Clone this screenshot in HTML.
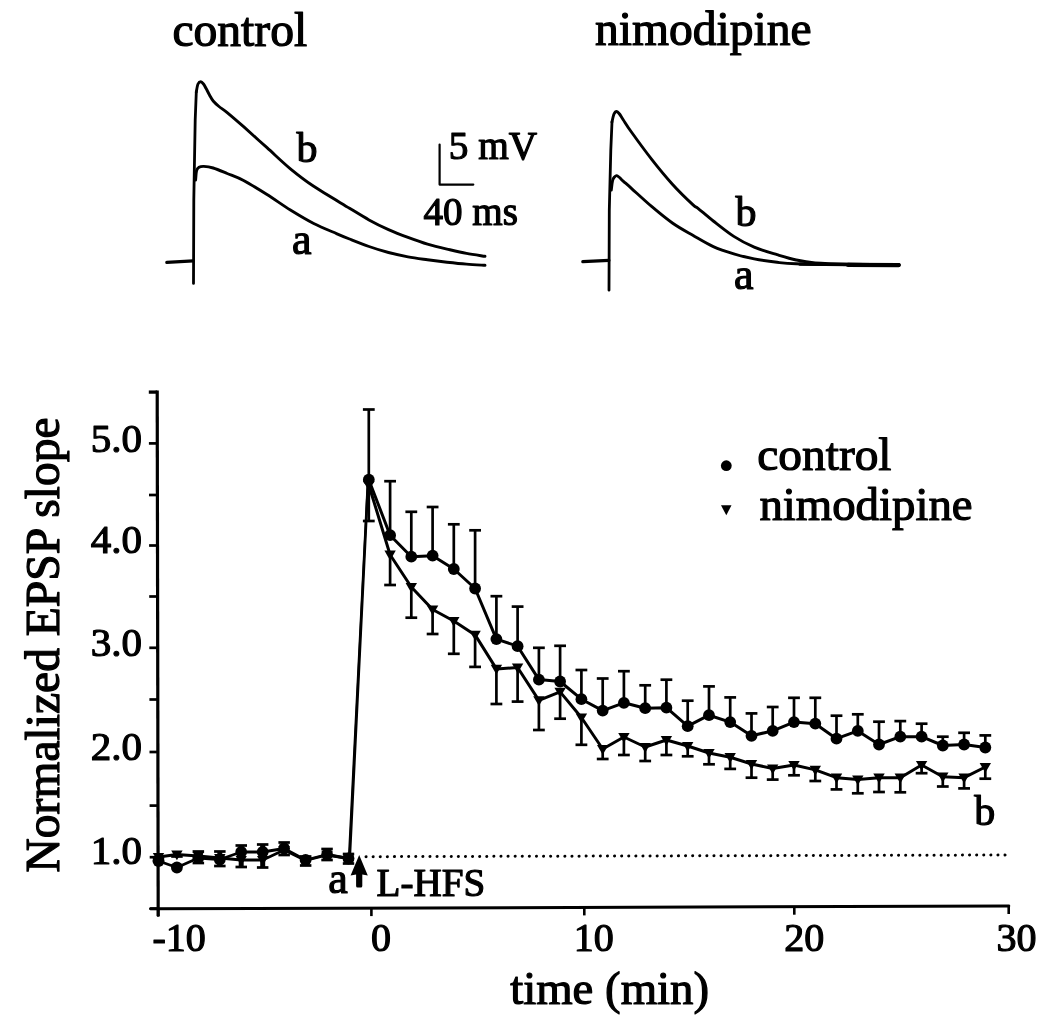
<!DOCTYPE html>
<html><head><meta charset="utf-8"><title>figure</title>
<style>html,body{margin:0;padding:0;background:#fff}body{width:1050px;height:1026px;overflow:hidden}svg{display:block;will-change:transform}text{font-family:"Liberation Serif",serif;fill:#000;stroke:#000;stroke-width:1.2px;stroke-linejoin:round}</style>
</head><body>
<svg width="1050" height="1026" viewBox="0 0 1050 1026">
<rect width="1050" height="1026" fill="#fff"/>
<text x="172.4" y="46.1" font-size="47.6">control</text>
<text x="594.9" y="44.8" font-size="47.6">nimodipine</text>
<path d="M166.8 262.4 L193.3 260.9" fill="none" stroke="#000" stroke-width="3.2" stroke-linejoin="round" stroke-linecap="round"/>
<path d="M193.5 283.4 L193.8 200 L195.2 120 L196.3 92" fill="none" stroke="#000" stroke-width="2.8" stroke-linejoin="round" stroke-linecap="round"/>
<path d="M196.3 92 C196.6 90.7 197.2 85.7 198 84 C198.8 82.3 199.9 81.8 200.8 81.8 C201.7 81.8 202.6 82.9 203.5 84 C204.4 85.1 205.1 86.7 206.1 88.5 C207.1 90.3 208.3 92.9 209.5 95 C210.7 97.1 211.6 99.1 213.2 101 C214.8 102.9 216.7 104.6 219 106.5 C221.3 108.4 223.1 109.2 227.2 112.6 C231.3 116 237 120.9 243.6 126.7 C250.2 132.6 259.2 140.7 267 147.7 C274.8 154.7 282.6 162.4 290.4 168.8 C298.2 175.2 303.8 179.7 313.7 186.3 C323.6 192.9 340.3 202.6 349.5 208.2 C358.7 213.8 362.5 216.3 369 219.9 C375.5 223.5 382 226.7 388.5 229.6 C395 232.5 401.5 235 408 237.4 C414.5 239.8 421 242.2 427.5 244.2 C434 246.1 440.5 247.6 447 249.1 C453.5 250.6 460.2 252.2 466.5 253.4 C472.8 254.6 481.9 255.8 485 256.3" fill="none" stroke="#000" stroke-width="2.9" stroke-linejoin="round" stroke-linecap="round"/>
<path d="M195.6 180 C195.8 178.4 196 172.6 196.6 170.5 C197.2 168.4 197.8 168 199 167.3 C200.2 166.6 201.4 166.3 203.8 166.4 C206.2 166.5 209.3 166.8 213.2 168 C217.1 169.2 222.1 171.4 227.2 173.5 C232.3 175.6 237 177 243.6 180.5 C250.2 184 259.2 189.6 267 194.5 C274.8 199.4 282.6 205.2 290.4 210 C298.2 214.8 305.9 219.5 313.7 223.5 C321.5 227.5 331 231.2 337 233.8 C343 236.4 344.2 236.9 349.5 239 C354.8 241.1 362.5 244.2 369 246.5 C375.5 248.8 382 250.8 388.5 252.5 C395 254.2 401.5 255.7 408 256.9 C414.5 258.1 421 258.9 427.5 259.8 C434 260.7 440.5 261.5 447 262.2 C453.5 262.9 460.2 263.6 466.5 264.1 C472.8 264.6 481.9 265.1 485 265.3" fill="none" stroke="#000" stroke-width="2.9" stroke-linejoin="round" stroke-linecap="round"/>
<text x="296.6" y="162.1" font-size="42">b</text>
<text x="291.9" y="254.4" font-size="44">a</text>
<path d="M439.6 144.5 L439.6 184.6 L473.3 184.6" fill="none" stroke="#000" stroke-width="2.2" stroke-linejoin="round" stroke-linecap="round"/>
<text x="448.7" y="159.4" font-size="39.3">5 mV</text>
<text x="423.5" y="224.7" font-size="39.1">40 ms</text>
<path d="M582.8 261.7 L608.9 260.4" fill="none" stroke="#000" stroke-width="3.2" stroke-linejoin="round" stroke-linecap="round"/>
<path d="M609 290.2 L609.3 210 L610.8 150 L612 122" fill="none" stroke="#000" stroke-width="2.8" stroke-linejoin="round" stroke-linecap="round"/>
<path d="M612 122 C612.3 120.7 613.2 115.8 614 114 C614.8 112.2 615.8 111.5 616.7 111.5 C617.6 111.5 618.4 112.6 619.5 114 C620.6 115.4 621.2 116.7 623.2 119.7 C625.2 122.7 626.6 125.3 631.4 132 C636.2 138.7 645.1 150.9 651.9 159.6 C658.7 168.3 665.6 176.7 672.4 184.2 C679.2 191.7 688.5 200.6 692.8 204.6 C697.1 208.6 694.6 205.6 698 208.3 C701.4 211 707.3 216.3 713.3 221 C719.3 225.7 727 232 733.8 236.4 C740.6 240.8 747 244.1 754.2 247.2 C761.4 250.2 770.1 252.6 777.1 254.7 C784.1 256.8 789.9 258.6 796.2 260 C802.6 261.4 806.2 262.2 815.2 262.9 C824.2 263.6 836 263.9 850 264.2 C864 264.5 890.8 264.7 899 264.8" fill="none" stroke="#000" stroke-width="2.9" stroke-linejoin="round" stroke-linecap="round"/>
<path d="M611.3 190 C611.5 188.4 612.1 182.7 612.6 180.5 C613.1 178.3 613.8 177.8 614.5 177 C615.2 176.2 615.9 175.5 616.7 175.6 C617.5 175.7 618.4 176.6 619.5 177.5 C620.6 178.4 621.2 179.3 623.2 181.1 C625.2 182.9 626.6 184 631.4 188.3 C636.2 192.6 645.1 200.9 651.9 206.7 C658.7 212.5 665.6 218.2 672.4 223 C679.2 227.8 686 231.4 692.8 235.3 C699.6 239.2 706.5 243.5 713.3 246.6 C720.1 249.7 727 251.8 733.8 253.8 C740.6 255.9 747 257.5 754.2 258.9 C761.4 260.3 770.1 261.5 777.1 262.3 C784.1 263.1 785.7 263.4 796.2 263.8 C806.7 264.2 822.9 264.4 840 264.6 C857.1 264.8 889.2 265 899 265.1" fill="none" stroke="#000" stroke-width="2.9" stroke-linejoin="round" stroke-linecap="round"/>
<path d="M800 264.2 L899 265" fill="none" stroke="#000" stroke-width="3.3" stroke-linejoin="round" stroke-linecap="round"/>
<path d="M848 264.9 L898.6 265.2" fill="none" stroke="#000" stroke-width="4.2" stroke-linejoin="round" stroke-linecap="round"/>
<text x="735.6" y="226.2" font-size="42">b</text>
<text x="734.1" y="289.1" font-size="44">a</text>
<path d="M157.2 390.5 L158.2 916" fill="none" stroke="#000" stroke-width="3.2" stroke-linejoin="round" stroke-linecap="butt"/>
<path d="M150.5 908.8 L1008.8 906" fill="none" stroke="#000" stroke-width="3" stroke-linejoin="round" stroke-linecap="round"/>
<path d="M148.8 392.1 L157.2 392.1" fill="none" stroke="#000" stroke-width="3.3" stroke-linejoin="round" stroke-linecap="butt"/>
<path d="M148.9 443.4 L157.3 443.4" fill="none" stroke="#000" stroke-width="2.7" stroke-linejoin="round" stroke-linecap="butt"/>
<path d="M149 495 L157.4 495" fill="none" stroke="#000" stroke-width="2.7" stroke-linejoin="round" stroke-linecap="butt"/>
<path d="M149.1 545.5 L157.5 545.5" fill="none" stroke="#000" stroke-width="2.7" stroke-linejoin="round" stroke-linecap="butt"/>
<path d="M149.2 596.5 L157.6 596.5" fill="none" stroke="#000" stroke-width="2.7" stroke-linejoin="round" stroke-linecap="butt"/>
<path d="M149.3 647.8 L157.7 647.8" fill="none" stroke="#000" stroke-width="2.7" stroke-linejoin="round" stroke-linecap="butt"/>
<path d="M149.4 699.5 L157.8 699.5" fill="none" stroke="#000" stroke-width="2.7" stroke-linejoin="round" stroke-linecap="butt"/>
<path d="M149.5 752 L157.9 752" fill="none" stroke="#000" stroke-width="2.7" stroke-linejoin="round" stroke-linecap="butt"/>
<path d="M149.6 805.6 L158 805.6" fill="none" stroke="#000" stroke-width="2.7" stroke-linejoin="round" stroke-linecap="butt"/>
<path d="M149.7 857.2 L158.1 857.2" fill="none" stroke="#000" stroke-width="2.7" stroke-linejoin="round" stroke-linecap="butt"/>
<path d="M149.8 908.7 L158.2 908.7" fill="none" stroke="#000" stroke-width="2.7" stroke-linejoin="round" stroke-linecap="butt"/>
<path d="M158.2 908.8 L158.2 916.8" fill="none" stroke="#000" stroke-width="2.6" stroke-linejoin="round" stroke-linecap="butt"/>
<path d="M371.4 908.1 L371.4 916.1" fill="none" stroke="#000" stroke-width="2.6" stroke-linejoin="round" stroke-linecap="butt"/>
<path d="M584.3 907.4 L584.3 915.4" fill="none" stroke="#000" stroke-width="2.6" stroke-linejoin="round" stroke-linecap="butt"/>
<path d="M794.3 906.7 L794.3 914.7" fill="none" stroke="#000" stroke-width="2.6" stroke-linejoin="round" stroke-linecap="butt"/>
<path d="M1008.7 906 L1008.7 914" fill="none" stroke="#000" stroke-width="2.6" stroke-linejoin="round" stroke-linecap="butt"/>
<text x="90.8" y="452" font-size="41">5.0</text>
<text x="90.8" y="553.4" font-size="41">4.0</text>
<text x="90.8" y="656.2" font-size="41">3.0</text>
<text x="90.8" y="759.8" font-size="41">2.0</text>
<text x="90.8" y="864.4" font-size="41">1.0</text>
<text x="152.4" y="951" font-size="40">-10</text>
<text x="371" y="951" font-size="40">0</text>
<text x="573.7" y="951" font-size="40">10</text>
<text x="784.2" y="951" font-size="40">20</text>
<text x="996.5" y="951" font-size="40">30</text>
<text x="510.2" y="1004.2" font-size="46.8">time (min)</text>
<text transform="translate(58.8,872.5) rotate(-90)" font-size="47.55">Normalized EPSP slope</text>
<line x1="366" y1="856.7" x2="1008" y2="855" stroke="#000" stroke-width="3" stroke-dasharray="0.1 7.0" stroke-linecap="round"/>
<path d="M349.7 858.5 L368.2 479.7" fill="none" stroke="#000" stroke-width="2.6" stroke-linejoin="round" stroke-linecap="round"/>
<path d="M348.9 858.5 L367.6 485" fill="none" stroke="#000" stroke-width="2.2" stroke-linejoin="round" stroke-linecap="round"/>
<path d="M158.5 861 L176.9 867.5 L198.3 858 L219.8 859.5 L241.2 852 L262.7 852 L284.1 848.5 L305.6 860 L327.1 854.5 L348.5 858.5" fill="none" stroke="#000" stroke-width="2.8" stroke-linejoin="round" stroke-linecap="round"/>
<path d="M158.5 857 L176.9 854.5 L198.3 856 L219.8 858 L241.2 860 L262.7 860 L284.1 850 L305.6 860.5 L327.1 855 L348.5 858.5" fill="none" stroke="#000" stroke-width="2.8" stroke-linejoin="round" stroke-linecap="round"/>
<path d="M368.8 479.7 L390.1 535.2 L411.3 556.7 L432.6 555.7 L453.8 569 L475.1 588.5 L496.4 639.1 L517.6 646.2 L538.9 679.6 L560.1 681.5 L581.4 699.2 L602.7 710.6 L623.9 702.8 L645.2 708.2 L666.4 707.7 L687.7 726.2 L709 715.2 L730.2 722.1 L751.5 735.8 L772.7 730.9 L794 722.1 L815.3 723.7 L836.5 738.7 L857.8 730.9 L879 744.5 L900.3 736.7 L921.6 736.7 L942.8 745.5 L964.1 744.5 L985.3 747.5" fill="none" stroke="#000" stroke-width="3" stroke-linejoin="round" stroke-linecap="round"/>
<path d="M368.8 485 L390.1 554.7 L411.3 587 L432.6 609.5 L453.8 621 L475.1 634.9 L496.4 668.9 L517.6 667.5 L538.9 700.4 L560.1 691.9 L581.4 717.5 L602.7 749 L623.9 737 L645.2 747 L666.4 740 L687.7 746 L709 753 L730.2 757.2 L751.5 764 L772.7 768.5 L794 765 L815.3 769.9 L836.5 777.7 L857.8 779.6 L879 777.7 L900.3 777.7 L921.6 765 L942.8 776.7 L964.1 777.7 L985.3 767" fill="none" stroke="#000" stroke-width="3" stroke-linejoin="round" stroke-linecap="round"/>
<path d="M368.8 479.7 L368.8 409.5" fill="none" stroke="#000" stroke-width="2.7" stroke-linejoin="round" stroke-linecap="butt"/>
<path d="M362.9 409.5 L374.7 409.5" fill="none" stroke="#000" stroke-width="2.7" stroke-linejoin="round" stroke-linecap="butt"/>
<path d="M368.8 485 L368.8 521" fill="none" stroke="#000" stroke-width="2.7" stroke-linejoin="round" stroke-linecap="butt"/>
<path d="M362.9 521 L374.7 521" fill="none" stroke="#000" stroke-width="2.7" stroke-linejoin="round" stroke-linecap="butt"/>
<path d="M390.1 535.2 L390.1 481.2" fill="none" stroke="#000" stroke-width="2.7" stroke-linejoin="round" stroke-linecap="butt"/>
<path d="M384.2 481.2 L396 481.2" fill="none" stroke="#000" stroke-width="2.7" stroke-linejoin="round" stroke-linecap="butt"/>
<path d="M390.1 554.7 L390.1 585" fill="none" stroke="#000" stroke-width="2.7" stroke-linejoin="round" stroke-linecap="butt"/>
<path d="M384.2 585 L396 585" fill="none" stroke="#000" stroke-width="2.7" stroke-linejoin="round" stroke-linecap="butt"/>
<path d="M411.3 556.7 L411.3 511.8" fill="none" stroke="#000" stroke-width="2.7" stroke-linejoin="round" stroke-linecap="butt"/>
<path d="M405.4 511.8 L417.2 511.8" fill="none" stroke="#000" stroke-width="2.7" stroke-linejoin="round" stroke-linecap="butt"/>
<path d="M411.3 587 L411.3 617.7" fill="none" stroke="#000" stroke-width="2.7" stroke-linejoin="round" stroke-linecap="butt"/>
<path d="M405.4 617.7 L417.2 617.7" fill="none" stroke="#000" stroke-width="2.7" stroke-linejoin="round" stroke-linecap="butt"/>
<path d="M432.6 555.7 L432.6 507" fill="none" stroke="#000" stroke-width="2.7" stroke-linejoin="round" stroke-linecap="butt"/>
<path d="M426.7 507 L438.5 507" fill="none" stroke="#000" stroke-width="2.7" stroke-linejoin="round" stroke-linecap="butt"/>
<path d="M432.6 609.5 L432.6 634" fill="none" stroke="#000" stroke-width="2.7" stroke-linejoin="round" stroke-linecap="butt"/>
<path d="M426.7 634 L438.5 634" fill="none" stroke="#000" stroke-width="2.7" stroke-linejoin="round" stroke-linecap="butt"/>
<path d="M453.8 569 L453.8 524.3" fill="none" stroke="#000" stroke-width="2.7" stroke-linejoin="round" stroke-linecap="butt"/>
<path d="M447.9 524.3 L459.7 524.3" fill="none" stroke="#000" stroke-width="2.7" stroke-linejoin="round" stroke-linecap="butt"/>
<path d="M453.8 621 L453.8 653.8" fill="none" stroke="#000" stroke-width="2.7" stroke-linejoin="round" stroke-linecap="butt"/>
<path d="M447.9 653.8 L459.7 653.8" fill="none" stroke="#000" stroke-width="2.7" stroke-linejoin="round" stroke-linecap="butt"/>
<path d="M475.1 588.5 L475.1 530.3" fill="none" stroke="#000" stroke-width="2.7" stroke-linejoin="round" stroke-linecap="butt"/>
<path d="M469.2 530.3 L481 530.3" fill="none" stroke="#000" stroke-width="2.7" stroke-linejoin="round" stroke-linecap="butt"/>
<path d="M475.1 634.9 L475.1 666.9" fill="none" stroke="#000" stroke-width="2.7" stroke-linejoin="round" stroke-linecap="butt"/>
<path d="M469.2 666.9 L481 666.9" fill="none" stroke="#000" stroke-width="2.7" stroke-linejoin="round" stroke-linecap="butt"/>
<path d="M496.4 639.1 L496.4 596.2" fill="none" stroke="#000" stroke-width="2.7" stroke-linejoin="round" stroke-linecap="butt"/>
<path d="M490.5 596.2 L502.3 596.2" fill="none" stroke="#000" stroke-width="2.7" stroke-linejoin="round" stroke-linecap="butt"/>
<path d="M496.4 668.9 L496.4 704" fill="none" stroke="#000" stroke-width="2.7" stroke-linejoin="round" stroke-linecap="butt"/>
<path d="M490.5 704 L502.3 704" fill="none" stroke="#000" stroke-width="2.7" stroke-linejoin="round" stroke-linecap="butt"/>
<path d="M517.6 646.2 L517.6 606.6" fill="none" stroke="#000" stroke-width="2.7" stroke-linejoin="round" stroke-linecap="butt"/>
<path d="M511.7 606.6 L523.5 606.6" fill="none" stroke="#000" stroke-width="2.7" stroke-linejoin="round" stroke-linecap="butt"/>
<path d="M517.6 667.5 L517.6 701.6" fill="none" stroke="#000" stroke-width="2.7" stroke-linejoin="round" stroke-linecap="butt"/>
<path d="M511.7 701.6 L523.5 701.6" fill="none" stroke="#000" stroke-width="2.7" stroke-linejoin="round" stroke-linecap="butt"/>
<path d="M538.9 679.6 L538.9 647.8" fill="none" stroke="#000" stroke-width="2.7" stroke-linejoin="round" stroke-linecap="butt"/>
<path d="M533 647.8 L544.8 647.8" fill="none" stroke="#000" stroke-width="2.7" stroke-linejoin="round" stroke-linecap="butt"/>
<path d="M538.9 700.4 L538.9 730" fill="none" stroke="#000" stroke-width="2.7" stroke-linejoin="round" stroke-linecap="butt"/>
<path d="M533 730 L544.8 730" fill="none" stroke="#000" stroke-width="2.7" stroke-linejoin="round" stroke-linecap="butt"/>
<path d="M560.1 681.5 L560.1 645.8" fill="none" stroke="#000" stroke-width="2.7" stroke-linejoin="round" stroke-linecap="butt"/>
<path d="M554.2 645.8 L566 645.8" fill="none" stroke="#000" stroke-width="2.7" stroke-linejoin="round" stroke-linecap="butt"/>
<path d="M560.1 691.9 L560.1 718.7" fill="none" stroke="#000" stroke-width="2.7" stroke-linejoin="round" stroke-linecap="butt"/>
<path d="M554.2 718.7 L566 718.7" fill="none" stroke="#000" stroke-width="2.7" stroke-linejoin="round" stroke-linecap="butt"/>
<path d="M581.4 699.2 L581.4 670" fill="none" stroke="#000" stroke-width="2.7" stroke-linejoin="round" stroke-linecap="butt"/>
<path d="M575.5 670 L587.3 670" fill="none" stroke="#000" stroke-width="2.7" stroke-linejoin="round" stroke-linecap="butt"/>
<path d="M581.4 717.5 L581.4 744.8" fill="none" stroke="#000" stroke-width="2.7" stroke-linejoin="round" stroke-linecap="butt"/>
<path d="M575.5 744.8 L587.3 744.8" fill="none" stroke="#000" stroke-width="2.7" stroke-linejoin="round" stroke-linecap="butt"/>
<path d="M602.7 710.6 L602.7 678.5" fill="none" stroke="#000" stroke-width="2.7" stroke-linejoin="round" stroke-linecap="butt"/>
<path d="M596.8 678.5 L608.6 678.5" fill="none" stroke="#000" stroke-width="2.7" stroke-linejoin="round" stroke-linecap="butt"/>
<path d="M602.7 749 L602.7 759" fill="none" stroke="#000" stroke-width="2.7" stroke-linejoin="round" stroke-linecap="butt"/>
<path d="M596.8 759 L608.6 759" fill="none" stroke="#000" stroke-width="2.7" stroke-linejoin="round" stroke-linecap="butt"/>
<path d="M623.9 702.8 L623.9 671.2" fill="none" stroke="#000" stroke-width="2.7" stroke-linejoin="round" stroke-linecap="butt"/>
<path d="M618 671.2 L629.8 671.2" fill="none" stroke="#000" stroke-width="2.7" stroke-linejoin="round" stroke-linecap="butt"/>
<path d="M623.9 737 L623.9 755" fill="none" stroke="#000" stroke-width="2.7" stroke-linejoin="round" stroke-linecap="butt"/>
<path d="M618 755 L629.8 755" fill="none" stroke="#000" stroke-width="2.7" stroke-linejoin="round" stroke-linecap="butt"/>
<path d="M645.2 708.2 L645.2 685.3" fill="none" stroke="#000" stroke-width="2.7" stroke-linejoin="round" stroke-linecap="butt"/>
<path d="M639.3 685.3 L651.1 685.3" fill="none" stroke="#000" stroke-width="2.7" stroke-linejoin="round" stroke-linecap="butt"/>
<path d="M645.2 747 L645.2 761" fill="none" stroke="#000" stroke-width="2.7" stroke-linejoin="round" stroke-linecap="butt"/>
<path d="M639.3 761 L651.1 761" fill="none" stroke="#000" stroke-width="2.7" stroke-linejoin="round" stroke-linecap="butt"/>
<path d="M666.4 707.7 L666.4 679.7" fill="none" stroke="#000" stroke-width="2.7" stroke-linejoin="round" stroke-linecap="butt"/>
<path d="M660.5 679.7 L672.3 679.7" fill="none" stroke="#000" stroke-width="2.7" stroke-linejoin="round" stroke-linecap="butt"/>
<path d="M666.4 740 L666.4 755" fill="none" stroke="#000" stroke-width="2.7" stroke-linejoin="round" stroke-linecap="butt"/>
<path d="M660.5 755 L672.3 755" fill="none" stroke="#000" stroke-width="2.7" stroke-linejoin="round" stroke-linecap="butt"/>
<path d="M687.7 726.2 L687.7 700.7" fill="none" stroke="#000" stroke-width="2.7" stroke-linejoin="round" stroke-linecap="butt"/>
<path d="M681.8 700.7 L693.6 700.7" fill="none" stroke="#000" stroke-width="2.7" stroke-linejoin="round" stroke-linecap="butt"/>
<path d="M687.7 746 L687.7 756.3" fill="none" stroke="#000" stroke-width="2.7" stroke-linejoin="round" stroke-linecap="butt"/>
<path d="M681.8 756.3 L693.6 756.3" fill="none" stroke="#000" stroke-width="2.7" stroke-linejoin="round" stroke-linecap="butt"/>
<path d="M709 715.2 L709 686.4" fill="none" stroke="#000" stroke-width="2.7" stroke-linejoin="round" stroke-linecap="butt"/>
<path d="M703.1 686.4 L714.9 686.4" fill="none" stroke="#000" stroke-width="2.7" stroke-linejoin="round" stroke-linecap="butt"/>
<path d="M709 753 L709 764.3" fill="none" stroke="#000" stroke-width="2.7" stroke-linejoin="round" stroke-linecap="butt"/>
<path d="M703.1 764.3 L714.9 764.3" fill="none" stroke="#000" stroke-width="2.7" stroke-linejoin="round" stroke-linecap="butt"/>
<path d="M730.2 722.1 L730.2 697.4" fill="none" stroke="#000" stroke-width="2.7" stroke-linejoin="round" stroke-linecap="butt"/>
<path d="M724.3 697.4 L736.1 697.4" fill="none" stroke="#000" stroke-width="2.7" stroke-linejoin="round" stroke-linecap="butt"/>
<path d="M730.2 757.2 L730.2 768.9" fill="none" stroke="#000" stroke-width="2.7" stroke-linejoin="round" stroke-linecap="butt"/>
<path d="M724.3 768.9 L736.1 768.9" fill="none" stroke="#000" stroke-width="2.7" stroke-linejoin="round" stroke-linecap="butt"/>
<path d="M751.5 735.8 L751.5 713.4" fill="none" stroke="#000" stroke-width="2.7" stroke-linejoin="round" stroke-linecap="butt"/>
<path d="M745.6 713.4 L757.4 713.4" fill="none" stroke="#000" stroke-width="2.7" stroke-linejoin="round" stroke-linecap="butt"/>
<path d="M751.5 764 L751.5 777.7" fill="none" stroke="#000" stroke-width="2.7" stroke-linejoin="round" stroke-linecap="butt"/>
<path d="M745.6 777.7 L757.4 777.7" fill="none" stroke="#000" stroke-width="2.7" stroke-linejoin="round" stroke-linecap="butt"/>
<path d="M772.7 730.9 L772.7 707" fill="none" stroke="#000" stroke-width="2.7" stroke-linejoin="round" stroke-linecap="butt"/>
<path d="M766.8 707 L778.6 707" fill="none" stroke="#000" stroke-width="2.7" stroke-linejoin="round" stroke-linecap="butt"/>
<path d="M772.7 768.5 L772.7 779.6" fill="none" stroke="#000" stroke-width="2.7" stroke-linejoin="round" stroke-linecap="butt"/>
<path d="M766.8 779.6 L778.6 779.6" fill="none" stroke="#000" stroke-width="2.7" stroke-linejoin="round" stroke-linecap="butt"/>
<path d="M794 722.1 L794 697.8" fill="none" stroke="#000" stroke-width="2.7" stroke-linejoin="round" stroke-linecap="butt"/>
<path d="M788.1 697.8 L799.9 697.8" fill="none" stroke="#000" stroke-width="2.7" stroke-linejoin="round" stroke-linecap="butt"/>
<path d="M794 765 L794 775.3" fill="none" stroke="#000" stroke-width="2.7" stroke-linejoin="round" stroke-linecap="butt"/>
<path d="M788.1 775.3 L799.9 775.3" fill="none" stroke="#000" stroke-width="2.7" stroke-linejoin="round" stroke-linecap="butt"/>
<path d="M815.3 723.7 L815.3 697.8" fill="none" stroke="#000" stroke-width="2.7" stroke-linejoin="round" stroke-linecap="butt"/>
<path d="M809.4 697.8 L821.2 697.8" fill="none" stroke="#000" stroke-width="2.7" stroke-linejoin="round" stroke-linecap="butt"/>
<path d="M815.3 769.9 L815.3 781" fill="none" stroke="#000" stroke-width="2.7" stroke-linejoin="round" stroke-linecap="butt"/>
<path d="M809.4 781 L821.2 781" fill="none" stroke="#000" stroke-width="2.7" stroke-linejoin="round" stroke-linecap="butt"/>
<path d="M836.5 738.7 L836.5 715.7" fill="none" stroke="#000" stroke-width="2.7" stroke-linejoin="round" stroke-linecap="butt"/>
<path d="M830.6 715.7 L842.4 715.7" fill="none" stroke="#000" stroke-width="2.7" stroke-linejoin="round" stroke-linecap="butt"/>
<path d="M836.5 777.7 L836.5 789.4" fill="none" stroke="#000" stroke-width="2.7" stroke-linejoin="round" stroke-linecap="butt"/>
<path d="M830.6 789.4 L842.4 789.4" fill="none" stroke="#000" stroke-width="2.7" stroke-linejoin="round" stroke-linecap="butt"/>
<path d="M857.8 730.9 L857.8 714.3" fill="none" stroke="#000" stroke-width="2.7" stroke-linejoin="round" stroke-linecap="butt"/>
<path d="M851.9 714.3 L863.7 714.3" fill="none" stroke="#000" stroke-width="2.7" stroke-linejoin="round" stroke-linecap="butt"/>
<path d="M857.8 779.6 L857.8 793.3" fill="none" stroke="#000" stroke-width="2.7" stroke-linejoin="round" stroke-linecap="butt"/>
<path d="M851.9 793.3 L863.7 793.3" fill="none" stroke="#000" stroke-width="2.7" stroke-linejoin="round" stroke-linecap="butt"/>
<path d="M879 744.5 L879 721.7" fill="none" stroke="#000" stroke-width="2.7" stroke-linejoin="round" stroke-linecap="butt"/>
<path d="M873.1 721.7 L884.9 721.7" fill="none" stroke="#000" stroke-width="2.7" stroke-linejoin="round" stroke-linecap="butt"/>
<path d="M879 777.7 L879 792" fill="none" stroke="#000" stroke-width="2.7" stroke-linejoin="round" stroke-linecap="butt"/>
<path d="M873.1 792 L884.9 792" fill="none" stroke="#000" stroke-width="2.7" stroke-linejoin="round" stroke-linecap="butt"/>
<path d="M900.3 736.7 L900.3 721.1" fill="none" stroke="#000" stroke-width="2.7" stroke-linejoin="round" stroke-linecap="butt"/>
<path d="M894.4 721.1 L906.2 721.1" fill="none" stroke="#000" stroke-width="2.7" stroke-linejoin="round" stroke-linecap="butt"/>
<path d="M900.3 777.7 L900.3 792.3" fill="none" stroke="#000" stroke-width="2.7" stroke-linejoin="round" stroke-linecap="butt"/>
<path d="M894.4 792.3 L906.2 792.3" fill="none" stroke="#000" stroke-width="2.7" stroke-linejoin="round" stroke-linecap="butt"/>
<path d="M921.6 736.7 L921.6 723.7" fill="none" stroke="#000" stroke-width="2.7" stroke-linejoin="round" stroke-linecap="butt"/>
<path d="M915.7 723.7 L927.5 723.7" fill="none" stroke="#000" stroke-width="2.7" stroke-linejoin="round" stroke-linecap="butt"/>
<path d="M921.6 765 L921.6 773.2" fill="none" stroke="#000" stroke-width="2.7" stroke-linejoin="round" stroke-linecap="butt"/>
<path d="M915.7 773.2 L927.5 773.2" fill="none" stroke="#000" stroke-width="2.7" stroke-linejoin="round" stroke-linecap="butt"/>
<path d="M942.8 745.5 L942.8 736.7" fill="none" stroke="#000" stroke-width="2.7" stroke-linejoin="round" stroke-linecap="butt"/>
<path d="M936.9 736.7 L948.7 736.7" fill="none" stroke="#000" stroke-width="2.7" stroke-linejoin="round" stroke-linecap="butt"/>
<path d="M942.8 776.7 L942.8 786.5" fill="none" stroke="#000" stroke-width="2.7" stroke-linejoin="round" stroke-linecap="butt"/>
<path d="M936.9 786.5 L948.7 786.5" fill="none" stroke="#000" stroke-width="2.7" stroke-linejoin="round" stroke-linecap="butt"/>
<path d="M964.1 744.5 L964.1 732.8" fill="none" stroke="#000" stroke-width="2.7" stroke-linejoin="round" stroke-linecap="butt"/>
<path d="M958.2 732.8 L970 732.8" fill="none" stroke="#000" stroke-width="2.7" stroke-linejoin="round" stroke-linecap="butt"/>
<path d="M964.1 777.7 L964.1 788.4" fill="none" stroke="#000" stroke-width="2.7" stroke-linejoin="round" stroke-linecap="butt"/>
<path d="M958.2 788.4 L970 788.4" fill="none" stroke="#000" stroke-width="2.7" stroke-linejoin="round" stroke-linecap="butt"/>
<path d="M985.3 747.5 L985.3 735.4" fill="none" stroke="#000" stroke-width="2.7" stroke-linejoin="round" stroke-linecap="butt"/>
<path d="M979.4 735.4 L991.2 735.4" fill="none" stroke="#000" stroke-width="2.7" stroke-linejoin="round" stroke-linecap="butt"/>
<path d="M985.3 767 L985.3 778.7" fill="none" stroke="#000" stroke-width="2.7" stroke-linejoin="round" stroke-linecap="butt"/>
<path d="M979.4 778.7 L991.2 778.7" fill="none" stroke="#000" stroke-width="2.7" stroke-linejoin="round" stroke-linecap="butt"/>
<path d="M158.5 861 L158.5 858" fill="none" stroke="#000" stroke-width="5" stroke-linejoin="round" stroke-linecap="butt"/>
<path d="M152.8 858 L164.2 858" fill="none" stroke="#000" stroke-width="2.7" stroke-linejoin="round" stroke-linecap="butt"/>
<path d="M158.5 857 L158.5 861" fill="none" stroke="#000" stroke-width="5" stroke-linejoin="round" stroke-linecap="butt"/>
<path d="M152.8 861 L164.2 861" fill="none" stroke="#000" stroke-width="2.7" stroke-linejoin="round" stroke-linecap="butt"/>
<path d="M176.9 867.5 L176.9 865.5" fill="none" stroke="#000" stroke-width="5" stroke-linejoin="round" stroke-linecap="butt"/>
<path d="M171.2 865.5 L182.7 865.5" fill="none" stroke="#000" stroke-width="2.7" stroke-linejoin="round" stroke-linecap="butt"/>
<path d="M176.9 854.5 L176.9 856.5" fill="none" stroke="#000" stroke-width="5" stroke-linejoin="round" stroke-linecap="butt"/>
<path d="M171.2 856.5 L182.7 856.5" fill="none" stroke="#000" stroke-width="2.7" stroke-linejoin="round" stroke-linecap="butt"/>
<path d="M198.3 858 L198.3 851.5" fill="none" stroke="#000" stroke-width="5" stroke-linejoin="round" stroke-linecap="butt"/>
<path d="M192.6 851.5 L204.1 851.5" fill="none" stroke="#000" stroke-width="2.7" stroke-linejoin="round" stroke-linecap="butt"/>
<path d="M198.3 856 L198.3 863" fill="none" stroke="#000" stroke-width="5" stroke-linejoin="round" stroke-linecap="butt"/>
<path d="M192.6 863 L204.1 863" fill="none" stroke="#000" stroke-width="2.7" stroke-linejoin="round" stroke-linecap="butt"/>
<path d="M219.8 859.5 L219.8 851.5" fill="none" stroke="#000" stroke-width="5" stroke-linejoin="round" stroke-linecap="butt"/>
<path d="M214.1 851.5 L225.6 851.5" fill="none" stroke="#000" stroke-width="2.7" stroke-linejoin="round" stroke-linecap="butt"/>
<path d="M219.8 858 L219.8 866" fill="none" stroke="#000" stroke-width="5" stroke-linejoin="round" stroke-linecap="butt"/>
<path d="M214.1 866 L225.6 866" fill="none" stroke="#000" stroke-width="2.7" stroke-linejoin="round" stroke-linecap="butt"/>
<path d="M241.2 852 L241.2 845.5" fill="none" stroke="#000" stroke-width="5" stroke-linejoin="round" stroke-linecap="butt"/>
<path d="M235.5 845.5 L247 845.5" fill="none" stroke="#000" stroke-width="2.7" stroke-linejoin="round" stroke-linecap="butt"/>
<path d="M241.2 860 L241.2 867" fill="none" stroke="#000" stroke-width="5" stroke-linejoin="round" stroke-linecap="butt"/>
<path d="M235.5 867 L247 867" fill="none" stroke="#000" stroke-width="2.7" stroke-linejoin="round" stroke-linecap="butt"/>
<path d="M262.7 852 L262.7 844.5" fill="none" stroke="#000" stroke-width="5" stroke-linejoin="round" stroke-linecap="butt"/>
<path d="M256.9 844.5 L268.4 844.5" fill="none" stroke="#000" stroke-width="2.7" stroke-linejoin="round" stroke-linecap="butt"/>
<path d="M262.7 860 L262.7 867.5" fill="none" stroke="#000" stroke-width="5" stroke-linejoin="round" stroke-linecap="butt"/>
<path d="M256.9 867.5 L268.4 867.5" fill="none" stroke="#000" stroke-width="2.7" stroke-linejoin="round" stroke-linecap="butt"/>
<path d="M284.1 848.5 L284.1 842.5" fill="none" stroke="#000" stroke-width="5" stroke-linejoin="round" stroke-linecap="butt"/>
<path d="M278.4 842.5 L289.9 842.5" fill="none" stroke="#000" stroke-width="2.7" stroke-linejoin="round" stroke-linecap="butt"/>
<path d="M284.1 850 L284.1 855" fill="none" stroke="#000" stroke-width="5" stroke-linejoin="round" stroke-linecap="butt"/>
<path d="M278.4 855 L289.9 855" fill="none" stroke="#000" stroke-width="2.7" stroke-linejoin="round" stroke-linecap="butt"/>
<path d="M305.6 860 L305.6 856.5" fill="none" stroke="#000" stroke-width="5" stroke-linejoin="round" stroke-linecap="butt"/>
<path d="M299.9 856.5 L311.4 856.5" fill="none" stroke="#000" stroke-width="2.7" stroke-linejoin="round" stroke-linecap="butt"/>
<path d="M305.6 860.5 L305.6 865.5" fill="none" stroke="#000" stroke-width="5" stroke-linejoin="round" stroke-linecap="butt"/>
<path d="M299.9 865.5 L311.4 865.5" fill="none" stroke="#000" stroke-width="2.7" stroke-linejoin="round" stroke-linecap="butt"/>
<path d="M327.1 854.5 L327.1 849" fill="none" stroke="#000" stroke-width="5" stroke-linejoin="round" stroke-linecap="butt"/>
<path d="M321.3 849 L332.8 849" fill="none" stroke="#000" stroke-width="2.7" stroke-linejoin="round" stroke-linecap="butt"/>
<path d="M327.1 855 L327.1 860" fill="none" stroke="#000" stroke-width="5" stroke-linejoin="round" stroke-linecap="butt"/>
<path d="M321.3 860 L332.8 860" fill="none" stroke="#000" stroke-width="2.7" stroke-linejoin="round" stroke-linecap="butt"/>
<path d="M348.5 858.5 L348.5 854" fill="none" stroke="#000" stroke-width="5" stroke-linejoin="round" stroke-linecap="butt"/>
<path d="M342.8 854 L354.2 854" fill="none" stroke="#000" stroke-width="2.7" stroke-linejoin="round" stroke-linecap="butt"/>
<path d="M348.5 858.5 L348.5 863.5" fill="none" stroke="#000" stroke-width="5" stroke-linejoin="round" stroke-linecap="butt"/>
<path d="M342.8 863.5 L354.2 863.5" fill="none" stroke="#000" stroke-width="2.7" stroke-linejoin="round" stroke-linecap="butt"/>
<g fill="#000" stroke="none">
<circle cx="368.8" cy="479.7" r="5.9"/>
<path d="M363.1 480.9 L374.5 480.9 L368.8 490.7 Z"/>
<circle cx="390.1" cy="535.2" r="5.9"/>
<path d="M384.4 550.6 L395.8 550.6 L390.1 560.4 Z"/>
<circle cx="411.3" cy="556.7" r="5.9"/>
<path d="M405.6 582.9 L417 582.9 L411.3 592.7 Z"/>
<circle cx="432.6" cy="555.7" r="5.9"/>
<path d="M426.9 605.4 L438.3 605.4 L432.6 615.2 Z"/>
<circle cx="453.8" cy="569" r="5.9"/>
<path d="M448.1 616.9 L459.5 616.9 L453.8 626.7 Z"/>
<circle cx="475.1" cy="588.5" r="5.9"/>
<path d="M469.4 630.8 L480.8 630.8 L475.1 640.6 Z"/>
<circle cx="496.4" cy="639.1" r="5.9"/>
<path d="M490.7 664.8 L502.1 664.8 L496.4 674.6 Z"/>
<circle cx="517.6" cy="646.2" r="5.9"/>
<path d="M511.9 663.4 L523.3 663.4 L517.6 673.2 Z"/>
<circle cx="538.9" cy="679.6" r="5.9"/>
<path d="M533.2 696.3 L544.6 696.3 L538.9 706.1 Z"/>
<circle cx="560.1" cy="681.5" r="5.9"/>
<path d="M554.4 687.8 L565.8 687.8 L560.1 697.6 Z"/>
<circle cx="581.4" cy="699.2" r="5.9"/>
<path d="M575.7 713.4 L587.1 713.4 L581.4 723.2 Z"/>
<circle cx="602.7" cy="710.6" r="5.9"/>
<path d="M597 744.9 L608.4 744.9 L602.7 754.7 Z"/>
<circle cx="623.9" cy="702.8" r="5.9"/>
<path d="M618.2 732.9 L629.6 732.9 L623.9 742.7 Z"/>
<circle cx="645.2" cy="708.2" r="5.9"/>
<path d="M639.5 742.9 L650.9 742.9 L645.2 752.7 Z"/>
<circle cx="666.4" cy="707.7" r="5.9"/>
<path d="M660.7 735.9 L672.1 735.9 L666.4 745.7 Z"/>
<circle cx="687.7" cy="726.2" r="5.9"/>
<path d="M682 741.9 L693.4 741.9 L687.7 751.7 Z"/>
<circle cx="709" cy="715.2" r="5.9"/>
<path d="M703.3 748.9 L714.7 748.9 L709 758.7 Z"/>
<circle cx="730.2" cy="722.1" r="5.9"/>
<path d="M724.5 753.1 L735.9 753.1 L730.2 762.9 Z"/>
<circle cx="751.5" cy="735.8" r="5.9"/>
<path d="M745.8 759.9 L757.2 759.9 L751.5 769.7 Z"/>
<circle cx="772.7" cy="730.9" r="5.9"/>
<path d="M767 764.4 L778.4 764.4 L772.7 774.2 Z"/>
<circle cx="794" cy="722.1" r="5.9"/>
<path d="M788.3 760.9 L799.7 760.9 L794 770.7 Z"/>
<circle cx="815.3" cy="723.7" r="5.9"/>
<path d="M809.6 765.8 L821 765.8 L815.3 775.6 Z"/>
<circle cx="836.5" cy="738.7" r="5.9"/>
<path d="M830.8 773.6 L842.2 773.6 L836.5 783.4 Z"/>
<circle cx="857.8" cy="730.9" r="5.9"/>
<path d="M852.1 775.5 L863.5 775.5 L857.8 785.3 Z"/>
<circle cx="879" cy="744.5" r="5.9"/>
<path d="M873.3 773.6 L884.7 773.6 L879 783.4 Z"/>
<circle cx="900.3" cy="736.7" r="5.9"/>
<path d="M894.6 773.6 L906 773.6 L900.3 783.4 Z"/>
<circle cx="921.6" cy="736.7" r="5.9"/>
<path d="M915.9 760.9 L927.3 760.9 L921.6 770.7 Z"/>
<circle cx="942.8" cy="745.5" r="5.9"/>
<path d="M937.1 772.6 L948.5 772.6 L942.8 782.4 Z"/>
<circle cx="964.1" cy="744.5" r="5.9"/>
<path d="M958.4 773.6 L969.8 773.6 L964.1 783.4 Z"/>
<circle cx="985.3" cy="747.5" r="5.9"/>
<path d="M979.6 762.9 L991 762.9 L985.3 772.7 Z"/>
<circle cx="158.5" cy="861" r="5.9"/>
<path d="M152.8 852.9 L164.2 852.9 L158.5 862.7 Z"/>
<circle cx="176.9" cy="867.5" r="5.9"/>
<path d="M171.2 850.4 L182.6 850.4 L176.9 860.2 Z"/>
<circle cx="198.3" cy="858" r="5.9"/>
<path d="M192.7 851.9 L204 851.9 L198.3 861.7 Z"/>
<circle cx="219.8" cy="859.5" r="5.9"/>
<path d="M214.1 853.9 L225.5 853.9 L219.8 863.7 Z"/>
<circle cx="241.2" cy="852" r="5.9"/>
<path d="M235.6 855.9 L246.9 855.9 L241.2 865.7 Z"/>
<circle cx="262.7" cy="852" r="5.9"/>
<path d="M257 855.9 L268.4 855.9 L262.7 865.7 Z"/>
<circle cx="284.1" cy="848.5" r="5.9"/>
<path d="M278.4 845.9 L289.8 845.9 L284.1 855.7 Z"/>
<circle cx="305.6" cy="860" r="5.9"/>
<path d="M299.9 856.4 L311.3 856.4 L305.6 866.2 Z"/>
<circle cx="327.1" cy="854.5" r="5.9"/>
<path d="M321.4 850.9 L332.8 850.9 L327.1 860.7 Z"/>
<circle cx="348.5" cy="858.5" r="5.9"/>
<path d="M342.8 854.4 L354.2 854.4 L348.5 864.2 Z"/>
<circle cx="726.3" cy="465.7" r="5.4"/>
<path d="M721 505.3 L731.5 505.3 L726.3 515.3 Z"/>
<path d="M359.2 855 L367.8 875.5 L362.3 874.5 L362.3 886 Q362.3 887.5 360.8 887.5 L357.6 887.5 Q356.1 887.5 356.1 886 L356.1 874.5 L350.6 875.5 Z"/>
</g>
<text x="757.3" y="469.6" font-size="47.4">control</text>
<text x="759.4" y="519.8" font-size="46.8">nimodipine</text>
<text x="328.2" y="893.1" font-size="44">a</text>
<text x="376.6" y="895.9" font-size="39.1">L-HFS</text>
<text x="974.2" y="824.8" font-size="42">b</text>
</svg></body></html>
